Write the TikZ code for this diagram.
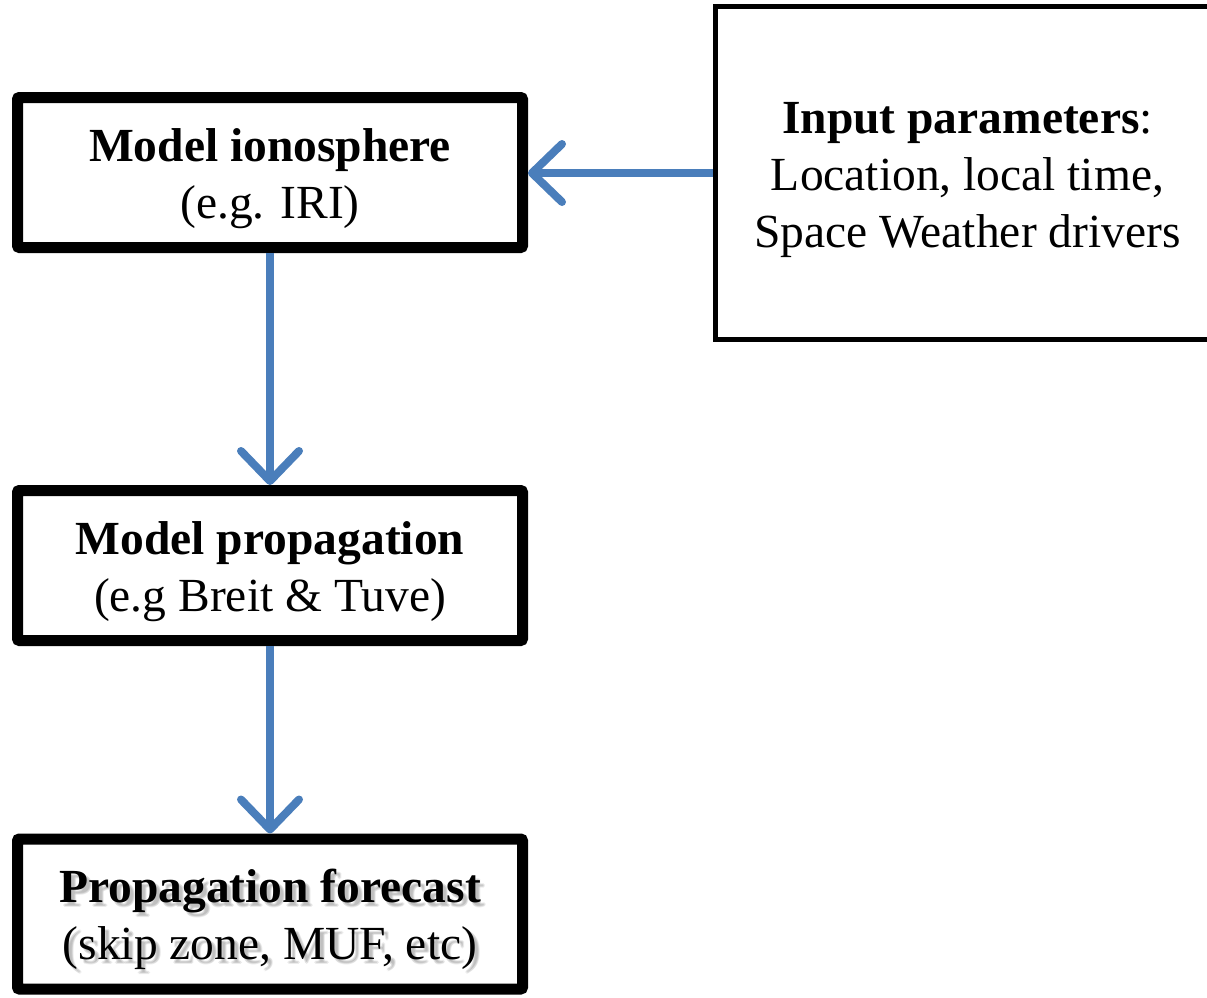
\documentclass[tikz,border=0pt]{standalone}
\usepackage{fontspec}
\setmainfont{Liberation Serif}
\usetikzlibrary{arrows.meta}
\definecolor{flowblue}{HTML}{4A7EBB}
\begin{document}
\begin{tikzpicture}[x=1pt,y=-1pt,
  every node/.style={font=\fontsize{47.5}{57}\selectfont, align=center, inner sep=0pt},
  stagebox/.style={draw=black, line width=11pt, rounded corners=2pt,
    minimum width=505pt, minimum height=150pt},
  inbox/.style={draw=black, line width=5pt, minimum width=504pt, minimum height=333pt},
  softshadow/.style={text=black!60, opacity=0.12},
  flow/.style={draw=flowblue, line width=8pt,
    -{Straight Barb[length=30pt,width=58pt,round]}},
]
\fill[white] (0,0) rectangle (1207,997);
\useasboundingbox (0,0) rectangle (1207,997);

% processing chain: frames
\node[stagebox] (iono) at (270,172.5) {};
\node[stagebox] (prop) at (270,565.5) {};
\node[stagebox] (fcst) at (270,914) {};

% processing chain: labels
\node (iono-text) at (270,179) {\textbf{Model ionosphere}\\(e.g. IRI)};
\node (prop-text) at (270,572) {\textbf{Model propagation}\\(e.g Breit \& Tuve)};

% soft drop shadow behind the forecast text
\foreach \dx/\dy [count=\i] in {3/4,5/4,4/3,4/5}
  \node[softshadow] (fshadow\i) at (270+\dx,919+\dy)
    {\textbf{Propagation forecast}\\(skip zone, MUF, etc)};
\node (fcst-text) at (270,919) {\textbf{Propagation forecast}\\(skip zone, MUF, etc)};

% driving inputs
\node[inbox] (input) at (967.5,173) {};
\node (input-text) at (967.5,180)
  {\textbf{Input parameters}:\\Location, local time,\\Space Weather drivers};

% connectors
\draw[flow] (input.west) -- (iono.east |- input.west);
\draw[flow] (iono.south) -- (prop.north);
\draw[flow] (prop.south) -- (fcst.north);
\end{tikzpicture}
\end{document}
